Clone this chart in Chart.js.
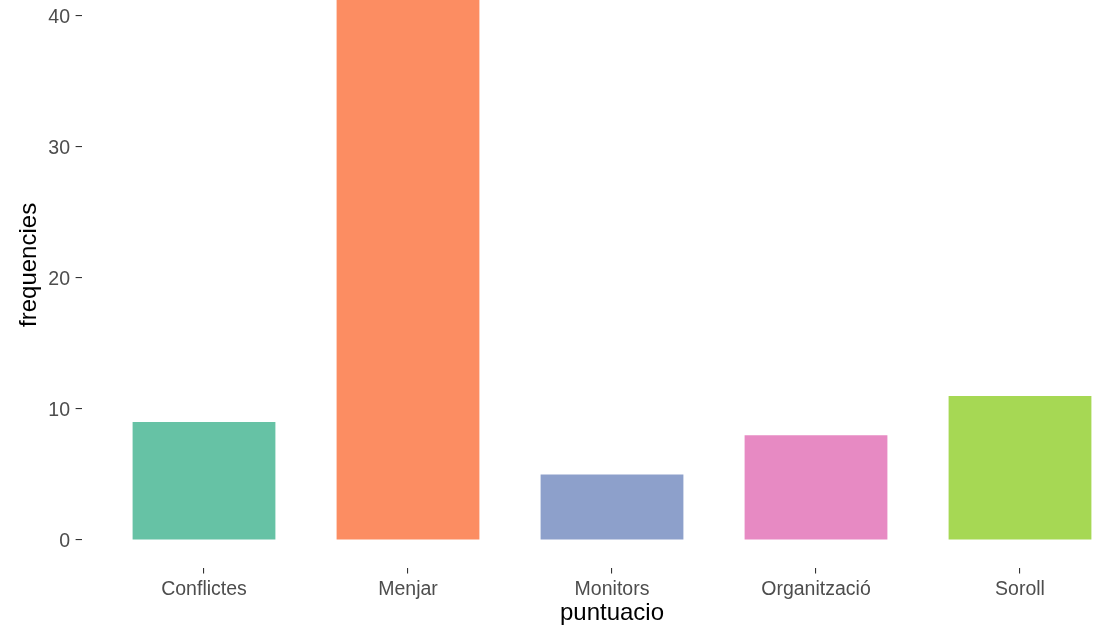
<!DOCTYPE html>
<html>
<head>
<meta charset="utf-8">
<script src="https://cdn.jsdelivr.net/npm/chart.js@4/dist/chart.umd.min.js"></script>
<style>
  html, body { margin: 0; padding: 0; background: #fff; overflow: hidden; width: 1095px; height: 632px; }
  .wrap { position: absolute; left: 0; top: -40px; width: 1150px; height: 672px; }
</style>
</head>
<body>
<div class="wrap"><canvas class="my-chart"></canvas></div>
<script>
const categories = ["Conflictes", "Menjar", "Monitors", "Organització", "Soroll"];
const frequencies = [9, 42, 5, 8, 11];
const barColors = ["#66C2A5", "#FC8D62", "#8DA0CB", "#E78AC3", "#A6D854"];
const yTicks = [0, 10, 20, 30, 40];

const FONT = "'Liberation Sans', Arial, sans-serif";
const myChart = document.querySelector(".my-chart");

new Chart(myChart, {
  type: "bar",
  data: {
    datasets: [
      {
        label: "frequencies",
        data: frequencies.map((v, i) => ({ x: i, y: v })),
        backgroundColor: barColors,
        borderWidth: 0,
        barPercentage: 0.7,
        categoryPercentage: 1,
      },
    ],
  },
  options: {
    responsive: true,
    maintainAspectRatio: false,
    animation: false,
    devicePixelRatio: 1,
    layout: { padding: { top: 2.3, left: 0, right: 7.6, bottom: 0 } },
    plugins: {
      legend: { display: false },
      tooltip: { enabled: false },
    },
    scales: {
      x: {
        type: "linear",
        offset: false,
        min: -0.6,
        max: 4.6,
        afterBuildTicks: (scale) => {
          scale.ticks = categories.map((c, i) => ({ value: i }));
        },
        afterFit: (scale) => {
          scale.height = 64.5;
          scale.paddingLeft = 0;
          scale.paddingRight = 0;
        },
        border: { display: false },
        grid: { offset: false, drawOnChartArea: false, tickLength: 6, color: "#333333", lineWidth: 1.1 },
        ticks: {
          padding: 4,
          color: "#4D4D4D",
          font: { family: FONT, size: 19.5 },
          maxRotation: 0,
          autoSkip: false,
          callback: (v) => categories[v],
        },
        title: {
          display: true,
          text: "puntuacio",
          color: "#000000",
          font: { family: FONT, size: 24, lineHeight: 1.2 },
          padding: { top: 0, bottom: 4.2 },
        },
      },
      y: {
        min: -2.1,
        max: 44.1,
        afterBuildTicks: (scale) => {
          scale.ticks = yTicks.map((v) => ({ value: v }));
        },
        afterFit: (scale) => {
          scale.width = 81.6;
          scale.paddingTop = 0;
          scale.paddingBottom = 0;
        },
        border: { display: false },
        grid: { drawOnChartArea: false, tickLength: 6, color: "#333333", lineWidth: 1.1 },
        ticks: {
          padding: 5.6,
          labelOffset: 2,
          color: "#4D4D4D",
          font: { family: FONT, size: 19.5 },
        },
        title: {
          display: true,
          text: "frequencies",
          color: "#000000",
          font: { family: FONT, size: 24, lineHeight: 1.2 },
          padding: { top: 15, bottom: 0 },
        },
      },
    },
  },
});
</script>
</body>
</html>
